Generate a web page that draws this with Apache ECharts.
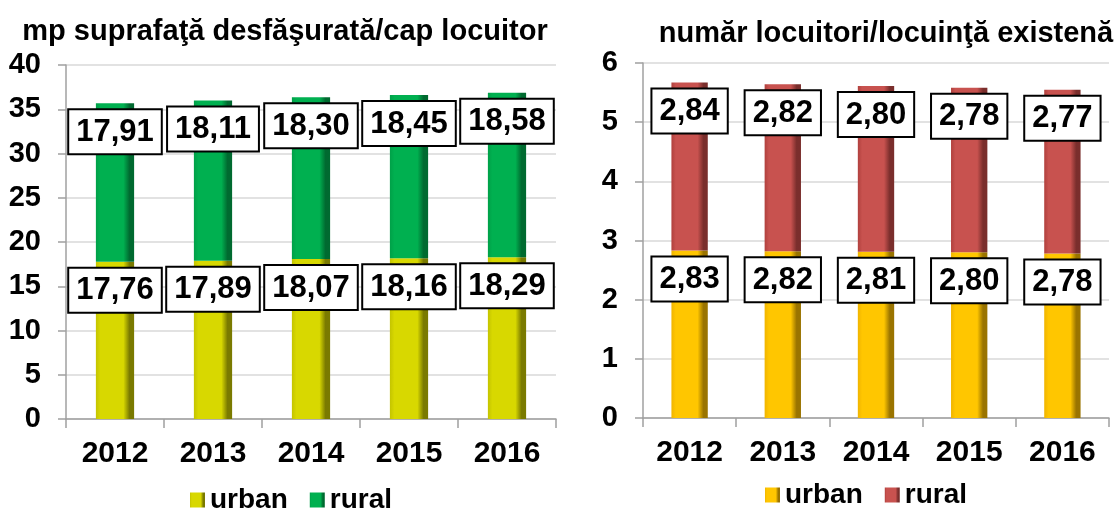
<!DOCTYPE html>
<html>
<head>
<meta charset="utf-8">
<script src="https://cdn.jsdelivr.net/npm/echarts@6/dist/echarts.min.js"></script>
<style>
  html, body { margin: 0; padding: 0; background: #fff; }
  #chart { width: 1114px; height: 508px; }
</style>
</head>
<body>
<div id="chart"></div>
<script>
const years = ['2012', '2013', '2014', '2015', '2016']
// mp suprafata desfasurata / cap locuitor
const areaUrban = [17.76, 17.89, 18.07, 18.16, 18.29]
const areaRural = [17.91, 18.11, 18.30, 18.45, 18.58]
// numar locuitori / locuinta
const perUrban = [2.83, 2.82, 2.81, 2.80, 2.78]
const perRural = [2.84, 2.82, 2.80, 2.78, 2.77]

const FONT = '"Liberation Sans", Arial, sans-serif'

// horizontal shading to fake the bevelled excel bars
function bevel (light, base, dark) {
  return new echarts.graphic.LinearGradient(0, 0, 1, 0, [
    { offset: 0, color: light },
    { offset: 0.12, color: base },
    { offset: 0.72, color: base },
    { offset: 0.88, color: dark },
    { offset: 1, color: dark }
  ])
}

const colors = {
  areaUrban: bevel('#c4c400', '#d8d800', '#7a7a00'),
  areaRural: bevel('#00a048', '#00b050', '#006a30'),
  perUrban: bevel('#f0b400', '#ffc600', '#9a7400'),
  perRural: bevel('#b0403d', '#c8524f', '#7a2e2c')
}

function fmt (p) {
  return p.value.toFixed(2).replace('.', ',')
}

const boxLabel = {
  show: true,
  position: 'insideTop',
  distance: 7,
  formatter: fmt,
  fontFamily: FONT,
  fontWeight: 'bold',
  fontSize: 31,
  lineHeight: 32,
  color: '#000',
  backgroundColor: '#fff',
  borderColor: '#000',
  borderWidth: 2,
  padding: [6, 7, 5, 7]
}

function xAxis (gridIndex) {
  return {
    type: 'category',
    gridIndex: gridIndex,
    data: years,
    axisLine: { lineStyle: { color: '#a0a0a0', width: 1.5 } },
    axisTick: { show: true, length: 9, lineStyle: { color: '#a0a0a0', width: 1.5 } },
    axisLabel: { margin: 20, color: '#000', fontFamily: FONT, fontWeight: 'bold', fontSize: 30 }
  }
}

function yAxis (gridIndex, max, interval) {
  return {
    type: 'value',
    gridIndex: gridIndex,
    min: 0,
    max: max,
    interval: interval,
    axisLine: { show: true, lineStyle: { color: '#a0a0a0', width: 1.5 } },
    axisTick: { show: true, length: 8, lineStyle: { color: '#a0a0a0', width: 1.5 } },
    splitLine: { lineStyle: { color: '#d9d9d9', width: 1.5 } },
    axisLabel: { margin: 25, color: '#000', fontFamily: FONT, fontWeight: 'bold', fontSize: 29 }
  }
}

function barSeries (name, data, axisIndex, stack, color) {
  return {
    name: name,
    type: 'bar',
    stack: stack,
    xAxisIndex: axisIndex,
    yAxisIndex: axisIndex,
    barWidth: '39%',
    data: data,
    itemStyle: { color: color },
    label: boxLabel
  }
}

const myChart = echarts.init(document.getElementById('chart'), null, { renderer: 'canvas' })

myChart.setOption({
  animation: false,
  title: [
    {
      text: 'mp suprafaţă desfăşurată/cap locuitor',
      left: 280,
      top: 12,
      textAlign: 'center',
      textStyle: { fontFamily: FONT, fontWeight: 'bold', fontSize: 29, color: '#000' }
    },
    {
      text: 'număr locuitori/locuinţă existenă',
      left: 881,
      top: 14,
      textAlign: 'center',
      textStyle: { fontFamily: FONT, fontWeight: 'bold', fontSize: 29, color: '#000' }
    }
  ],
  legend: [
    {
      left: 185,
      top: 481,
      itemWidth: 15,
      itemHeight: 15,
      itemGap: 22,
      textStyle: { fontFamily: FONT, fontWeight: 'bold', fontSize: 28, color: '#000' },
      data: [
        { name: 'urban', icon: 'rect', itemStyle: { color: colors.areaUrban } },
        { name: 'rural', icon: 'rect', itemStyle: { color: colors.areaRural } }
      ]
    },
    {
      left: 760,
      top: 476,
      itemWidth: 15,
      itemHeight: 15,
      itemGap: 22,
      textStyle: { fontFamily: FONT, fontWeight: 'bold', fontSize: 28, color: '#000' },
      data: [
        { name: 'urban', icon: 'rect', itemStyle: { color: colors.perUrban } },
        { name: 'rural', icon: 'rect', itemStyle: { color: colors.perRural } }
      ]
    }
  ],
  grid: [
    { left: 66, top: 65, width: 490, height: 354 },
    { left: 643, top: 63, width: 466, height: 355 }
  ],
  xAxis: [xAxis(0), xAxis(1)],
  yAxis: [yAxis(0, 40, 5), yAxis(1, 6, 1)],
  series: [
    barSeries('urban', areaUrban, 0, 'area', colors.areaUrban),
    barSeries('rural', areaRural, 0, 'area', colors.areaRural),
    barSeries('urban', perUrban, 1, 'per', colors.perUrban),
    barSeries('rural', perRural, 1, 'per', colors.perRural)
  ]
})
</script>
</body>
</html>
